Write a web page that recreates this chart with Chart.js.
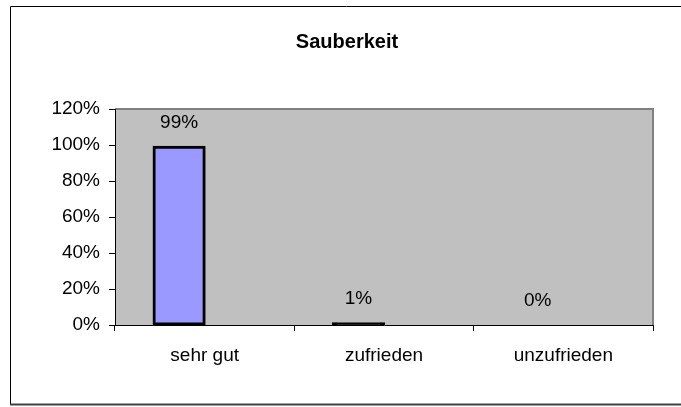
<!DOCTYPE html>
<html>
<head>
<meta charset="utf-8">
<script src="https://cdn.jsdelivr.net/npm/chart.js@4"></script>
<style>
  html, body { margin: 0; padding: 0; background: #fff; }
  #wrap { width: 681px; height: 407px; }
</style>
</head>
<body>
<div id="wrap"><canvas id="chart" width="681" height="407"></canvas></div>
<script>
// data
const categories = ['sehr gut', 'zufrieden', 'unzufrieden'];
const shares = [0.99, 0.01, 0];
// second (empty) series slot, the bars sit left of the category centre
const emptySeries = [null, null, null];
const yTicks = [0, 0.2, 0.4, 0.6, 0.8, 1.0, 1.2];

const FONT = 'Liberation Sans, Arial, sans-serif';

// grey plot area + outer frame
const backdrop = {
  id: 'backdrop',
  beforeDraw(chart) {
    const { ctx, chartArea: a } = chart;
    ctx.save();
    ctx.strokeStyle = '#000';
    ctx.lineWidth = 1;
    ctx.beginPath();
    ctx.moveTo(690, 6.5);
    ctx.lineTo(10.5, 6.5);
    ctx.lineTo(10.5, 404);
    ctx.stroke();
    ctx.strokeStyle = '#404040';
    ctx.lineWidth = 2;
    ctx.beginPath();
    ctx.moveTo(10, 404.5);
    ctx.lineTo(690, 404.5);
    ctx.stroke();
    ctx.fillStyle = '#c0c0c0';
    ctx.fillRect(a.left, a.top, a.right - a.left, a.bottom - a.top);
    ctx.strokeStyle = '#808080';
    ctx.lineWidth = 2;
    ctx.beginPath();
    ctx.moveTo(a.left, a.top);
    ctx.lineTo(a.right, a.top);
    ctx.lineTo(a.right, a.bottom);
    ctx.stroke();
    ctx.restore();
  }
};

// value labels above the bars
const valueLabels = {
  id: 'valueLabels',
  afterDatasetsDraw(chart) {
    const { ctx } = chart;
    const meta = chart.getDatasetMeta(0);
    ctx.save();
    ctx.font = '19px ' + FONT;
    ctx.fillStyle = '#000';
    ctx.textAlign = 'center';
    ctx.textBaseline = 'middle';
    meta.data.forEach((bar, i) => {
      ctx.fillText(Math.round(shares[i] * 100) + '%', bar.x, bar.y - 24);
    });
    ctx.restore();
  }
};

new Chart(document.getElementById('chart'), {
  type: 'bar',
  data: {
    labels: categories,
    datasets: [{
      label: 'Sauberkeit',
      data: shares,
      // a very flat bar is all outline, so it shows up black
      backgroundColor: ctx => (ctx.raw < 0.05 ? '#000' : '#9999ff'),
      borderColor: '#000',
      borderWidth: 3,
      borderSkipped: false,
      inflateAmount: 1,
      categoryPercentage: 0.57,
      barPercentage: 1.0
    }, {
      label: '',
      data: emptySeries,
      categoryPercentage: 0.57,
      barPercentage: 1.0
    }]
  },
  options: {
    responsive: false,
    animation: false,
    layout: { padding: { left: 41, right: 28, top: 0, bottom: 0 } },
    plugins: {
      legend: { display: false },
      tooltip: { enabled: false },
      title: {
        display: true,
        text: 'Sauberkeit',
        color: '#000',
        font: { family: FONT, size: 20, weight: 'bold' },
        padding: { top: 30, bottom: 55 }
      }
    },
    scales: {
      x: {
        grid: { display: true, drawOnChartArea: false, tickLength: 6, color: '#000', offset: true },
        border: { color: '#000', width: 1 },
        ticks: { color: '#000', font: { family: FONT, size: 19 }, padding: 13 },
        afterFit(scale) { scale.height = 82; }
      },
      y: {
        min: 0,
        max: 1.2,
        afterBuildTicks(scale) { scale.ticks = yTicks.map(v => ({ value: v })); },
        grid: { display: true, drawOnChartArea: false, tickLength: 6, color: '#000' },
        border: { color: '#000', width: 1 },
        ticks: {
          color: '#000',
          font: { family: FONT, size: 19 },
          padding: 9,
          callback: v => Math.round(v * 100) + '%'
        },
        afterFit(scale) { scale.width = 74; }
      }
    }
  },
  plugins: [backdrop, valueLabels]
});
</script>
</body>
</html>
